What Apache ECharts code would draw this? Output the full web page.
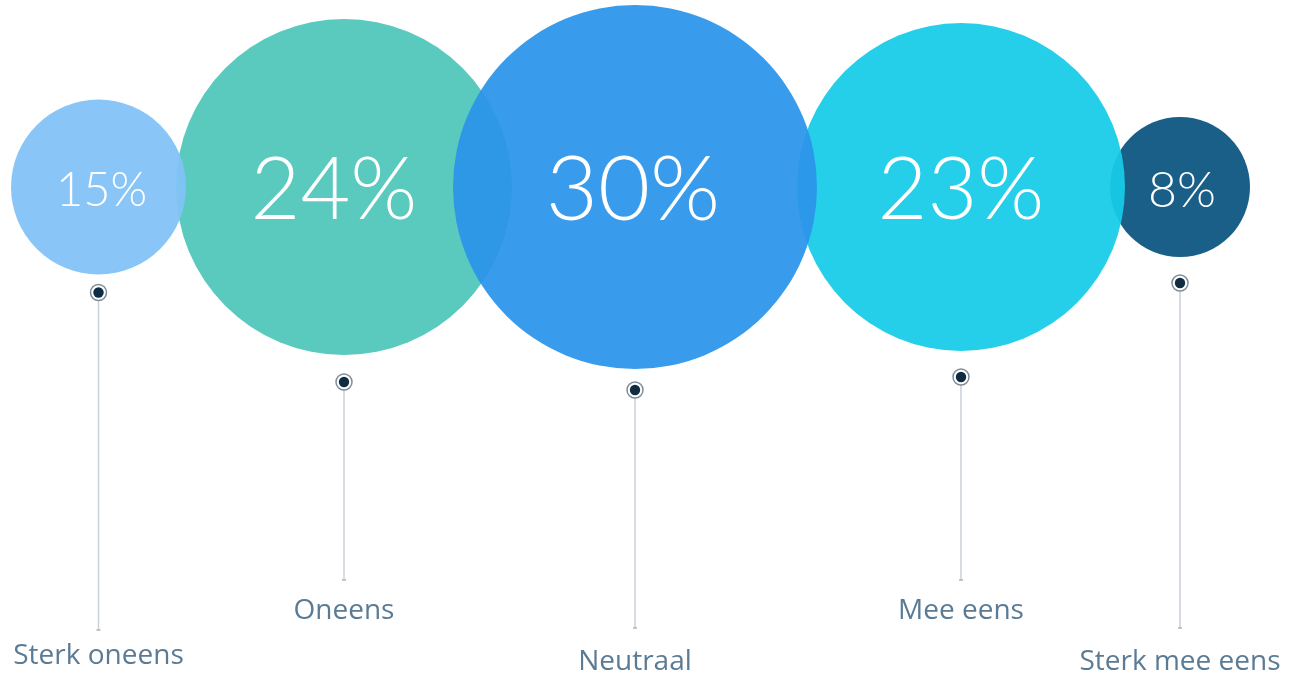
<!DOCTYPE html>
<html>
<head>
<meta charset="utf-8">
<title>Mening</title>
<script src="https://cdn.jsdelivr.net/npm/echarts@6/dist/echarts.min.js"></script>
<style>
  html, body { margin: 0; padding: 0; background: #ffffff; }
  #chart { width: 1301px; height: 675px; }
</style>
</head>
<body>
<div id="chart"></div>
<script>
// Answer categories and their share of respondents (%)
const categories = ['Sterk oneens', 'Oneens', 'Neutraal', 'Mee eens', 'Sterk mee eens'];
const shares = [15, 24, 30, 23, 8];

// Bubble styling
const bubbleColors = ['#82c2f6', '#50c7bb', '#2c95ea', '#17cce9', '#0b557f'];
const bubbleOpacity = 0.94;
const bubbleDiameters = [175, 336, 364, 328, 140];
const bubbleOverlaps = [10, 59, 20, 15];      // how far each bubble slides into the previous one
const bubbleLayer = [2, 1, 3, 2, 1];          // stacking order of the bubbles
const percentFontSizes = [47, 86, 90, 86, 50];
const percentShift = [3, -10, -2, 0, 2];      // horizontal nudge of the value text
const leftEdge = 11;
const centerLine = 187;
const pinGaps = [18, 27, 21, 26, 26];
const stemEnds = [630, 580, 628, 580, 628];
const labelMiddles = [656, 611, 662, 611, 662];

// Pack bubbles left to right along the centre line
const xs = [];
shares.forEach(function (v, i) {
  const r = bubbleDiameters[i] / 2;
  if (i === 0) {
    xs.push(leftEdge + r);
  } else {
    const prevR = bubbleDiameters[i - 1] / 2;
    xs.push(xs[i - 1] + prevR + r - bubbleOverlaps[i - 1]);
  }
});

const seriesData = shares.map(function (v, i) { return [xs[i], centerLine, v, i]; });

const chart = echarts.init(document.getElementById('chart'), null, { renderer: 'canvas' });

chart.setOption({
  backgroundColor: '#ffffff',
  animation: false,
  grid: { left: 0, right: 0, top: 0, bottom: 0 },
  xAxis: { type: 'value', min: 0, max: 1301, show: false },
  yAxis: { type: 'value', min: 0, max: 675, inverse: true, show: false },
  series: [{
    type: 'custom',
    coordinateSystem: 'cartesian2d',
    encode: { x: 0, y: 1 },
    data: seriesData,
    renderItem: function (params, api) {
      const i = api.value(3);
      const value = api.value(2);
      const c = api.coord([api.value(0), api.value(1)]);
      const r = bubbleDiameters[i] / 2;
      const pinY = c[1] + r + pinGaps[i];
      const stemEnd = api.coord([0, stemEnds[i]])[1];
      const labelY = api.coord([0, labelMiddles[i]])[1];
      return {
        type: 'group',
        children: [
          {
            type: 'circle',
            shape: { cx: c[0], cy: c[1], r: r },
            style: { fill: bubbleColors[i], opacity: bubbleOpacity },
            z2: bubbleLayer[i]
          },
          {
            type: 'text',
            x: c[0] + percentShift[i], y: c[1] + 4,
            style: {
              text: value + '%',
              fill: '#ffffff',
              font: '300 ' + percentFontSizes[i] + 'px Lato, "Open Sans", sans-serif',
              align: 'center',
              verticalAlign: 'middle'
            },
            z2: 20
          },
          {
            type: 'line',
            shape: { x1: c[0], y1: pinY + 8, x2: c[0], y2: stemEnd },
            style: { stroke: '#c9d1d8', lineWidth: 1.5 },
            z2: 5
          },
          {
            type: 'line',
            shape: { x1: c[0] - 2, y1: stemEnd, x2: c[0] + 2, y2: stemEnd },
            style: { stroke: '#aab5bf', lineWidth: 1.5 },
            z2: 5
          },
          {
            type: 'circle',
            shape: { cx: c[0], cy: pinY, r: 8 },
            style: { fill: '#ffffff', stroke: '#7f8d99', lineWidth: 1.5 },
            z2: 6
          },
          {
            type: 'circle',
            shape: { cx: c[0], cy: pinY, r: 5.2 },
            style: { fill: '#0f2c43' },
            z2: 7
          },
          {
            type: 'text',
            x: c[0], y: labelY,
            style: {
              text: categories[i],
              fill: '#5b7b95',
              font: '400 28px "Open Sans", Lato, sans-serif',
              align: 'center',
              verticalAlign: 'middle'
            },
            z2: 8
          }
        ]
      };
    }
  }]
});
</script>
</body>
</html>
